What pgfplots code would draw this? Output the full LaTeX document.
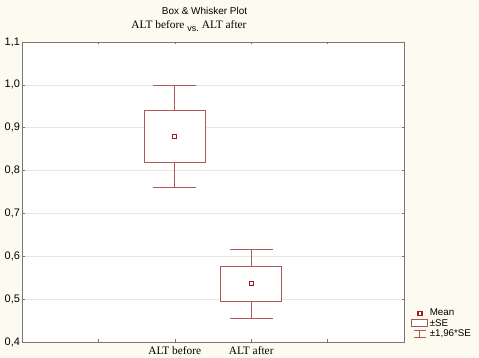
\documentclass[border=0pt]{standalone}
\usepackage{fontspec}
\setmainfont{Liberation Serif}
\newfontfamily\arial{Liberation Sans}
\usepackage{pgfplots}
\pgfplotsset{compat=1.18}
\usetikzlibrary{backgrounds}
\definecolor{cream}{RGB}{253,251,240}
\definecolor{boxcol}{RGB}{172,88,88}
\definecolor{markcol}{RGB}{160,25,35}
\definecolor{axcol}{RGB}{120,120,120}
\definecolor{gridcol}{RGB}{230,230,230}
\begin{document}
\begin{tikzpicture}
\begin{axis}[
  at={(0,0)}, anchor=south west,
  scale only axis, width=382bp, height=300bp,
  xmin=0, xmax=5, ymin=0.4, ymax=1.1,
  xtick={1,2,3,4}, xticklabels={,ALT before,ALT after,},
  ytick={0.4,0.5,0.6,0.7,0.8,0.9,1.0,1.1},
  yticklabel style={/pgf/number format/fixed, /pgf/number format/fixed zerofill, /pgf/number format/precision=1, /pgf/number format/use comma, /pgf/number format/assume math mode=true,
    font=\arial\fontsize{11}{12}\selectfont, xshift=1.5bp},
  xticklabel style={font=\fontsize{11.4}{12}\selectfont, yshift=-1bp},
  tick align=inside, major tick length=2.5bp,
  tick style={axcol, line width=0.5pt},
  axis line style={axcol, line width=0.8pt},
  ymajorgrids, grid style={gridcol, line width=0.5pt},
  axis background/.style={fill=white},
  legend style={draw=none, fill=none, at={(rel axis cs:1,0)}, anchor=south west,
    xshift=6bp, yshift=1bp, font=\arial\fontsize{9.8}{9.8}\selectfont,
    row sep=-2bp, inner sep=1bp},
  legend cell align=left,
]
% Box 1: ALT before, mean 0.88, +-SE 0.82..0.94, +-1.96SE 0.762..0.998
\addplot[boxcol, line width=0.7pt, forget plot] coordinates {(2,0.94) (2,0.998)};
\addplot[boxcol, line width=0.7pt, forget plot] coordinates {(2,0.82) (2,0.762)};
\addplot[boxcol, line width=0.7pt, forget plot] coordinates {(1.72,0.998) (2.28,0.998)};
\addplot[boxcol, line width=0.7pt, forget plot] coordinates {(1.72,0.762) (2.28,0.762)};
\addplot[boxcol, line width=0.7pt, fill=white, forget plot] coordinates {(1.6,0.82) (2.4,0.82) (2.4,0.94) (1.6,0.94)} --cycle;
% Box 2: ALT after, mean 0.536, +-SE 0.495..0.577, +-1.96SE 0.456..0.616
\addplot[boxcol, line width=0.7pt, forget plot] coordinates {(3,0.577) (3,0.616)};
\addplot[boxcol, line width=0.7pt, forget plot] coordinates {(3,0.495) (3,0.456)};
\addplot[boxcol, line width=0.7pt, forget plot] coordinates {(2.72,0.616) (3.28,0.616)};
\addplot[boxcol, line width=0.7pt, forget plot] coordinates {(2.72,0.456) (3.28,0.456)};
\addplot[boxcol, line width=0.7pt, fill=white, forget plot] coordinates {(2.6,0.495) (3.4,0.495) (3.4,0.577) (2.6,0.577)} --cycle;
% Means
\addplot[only marks, mark=square, mark size=2bp, markcol, line width=1.1pt] coordinates {(2,0.88) (3,0.536)};
\addlegendentry{Mean}
\addlegendimage{legend image code/.code={\draw[boxcol, line width=0.6pt, fill=white] (0bp,-3bp) rectangle (16bp,4bp);}}
\addlegendentry{±SE}
\addlegendimage{legend image code/.code={\draw[boxcol, line width=0.6pt] (2bp,3.5bp)--(14bp,3.5bp) (8bp,3.5bp)--(8bp,-3.5bp) (2bp,-3.5bp)--(14bp,-3.5bp);}}
\addlegendentry{±1,96*SE}
\end{axis}
\node[anchor=base, font=\arial\fontsize{10}{11}\selectfont] at (182.5bp,327.5bp) {Box \& Whisker Plot};
\node[anchor=base, font=\fontsize{11.4}{12}\selectfont] at (167bp,313.5bp) {ALT before\hspace{3bp}{\arial\fontsize{9}{9}\selectfont\raisebox{-3.5bp}{vs.}}\hspace{3bp}ALT after};
\begin{scope}[on background layer]
\fill[cream] (-22bp,-16bp) rectangle (457bp,342bp);
\end{scope}
\end{tikzpicture}
\end{document}
